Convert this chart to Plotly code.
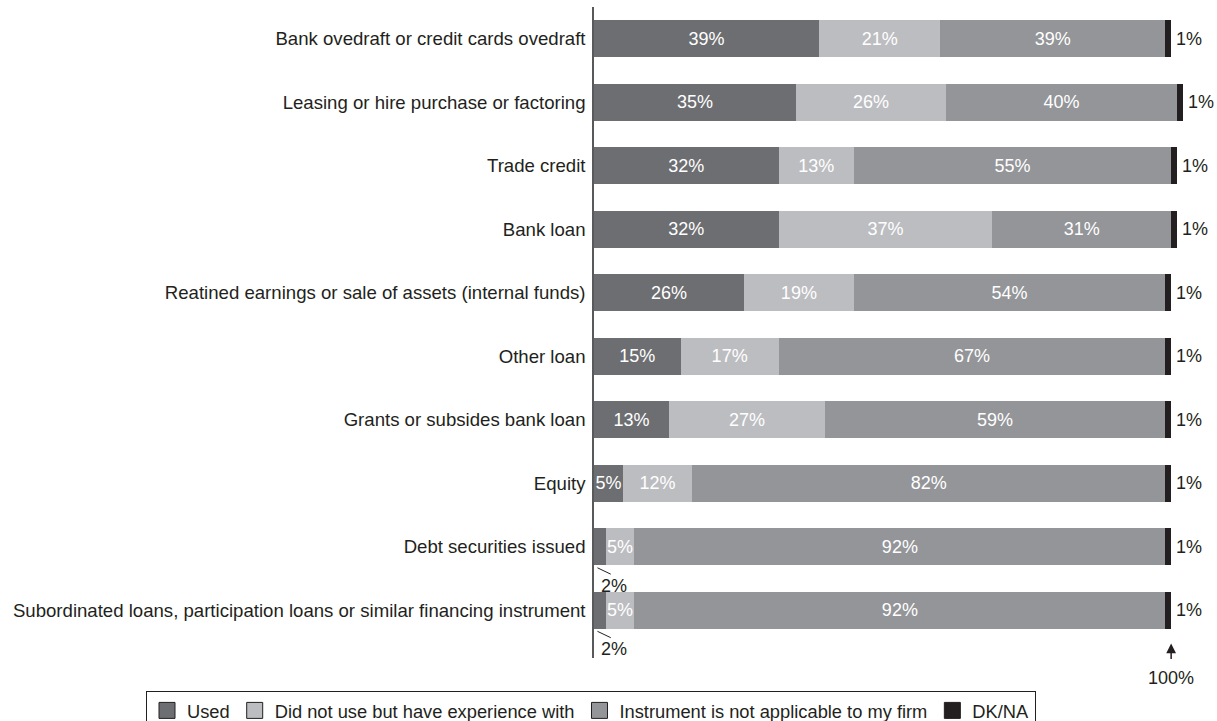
import plotly.graph_objects as go

categories = [
    "Bank ovedraft or credit cards ovedraft",
    "Leasing or hire purchase or factoring",
    "Trade credit",
    "Bank loan",
    "Reatined earnings or sale of assets (internal funds)",
    "Other loan",
    "Grants or subsides bank loan",
    "Equity",
    "Debt securities issued",
    "Subordinated loans, participation loans or similar financing instrument",
]
used = [39, 35, 32, 32, 26, 15, 13, 5, 2, 2]
did_not_use = [21, 26, 13, 37, 19, 17, 27, 12, 5, 5]
not_applicable = [39, 40, 55, 31, 54, 67, 59, 82, 92, 92]
dk_na = [1, 1, 1, 1, 1, 1, 1, 1, 1, 1]

series = [
    ("Used", used, "#6d6e71"),
    ("Did not use but have experience with", did_not_use, "#bcbdc0"),
    ("Instrument is not applicable to my firm", not_applicable, "#939598"),
    ("DK/NA", dk_na, "#231f20"),
]

FONT = "Liberation Sans, Arial, Helvetica, sans-serif"
TXT = "#231f20"
rows = list(range(len(categories)))
BAR_W = 0.58

W, H = 1217, 721
ML, MR, MT, MB = 594, 17, 7, 63
PLOT_W = W - ML - MR
PLOT_H = H - MT - MB

fig = go.Figure()
for name, vals, col in series:
    if name == "DK/NA":
        texts = ["" for _ in vals]
    else:
        texts = [f"{v}%" if v >= 5 else "" for v in vals]
    fig.add_trace(go.Bar(
        y=rows, x=vals, orientation="h", name=name,
        marker=dict(color=col, line=dict(width=0)),
        width=BAR_W,
        text=texts, textposition="inside", insidetextanchor="middle",
        textangle=0,
        textfont=dict(color="white", size=18, family=FONT),
        hoverinfo="skip", showlegend=False,
    ))
    # legend-only proxy with outlined square symbol
    fig.add_trace(go.Scatter(
        x=[None], y=[None], mode="markers", name=name,
        marker=dict(symbol="square", size=16, color=col,
                    line=dict(color="#231f20", width=1)),
        showlegend=True, hoverinfo="skip",
    ))

annotations = []
shapes = []
totals = [u + d + n + k for u, d, n, k in zip(used, did_not_use, not_applicable, dk_na)]
for i, (tot, k) in enumerate(zip(totals, dk_na)):
    annotations.append(dict(
        x=tot, y=i, xref="x", yref="y", text=f"{k}%", showarrow=False,
        xanchor="left", xshift=3, font=dict(size=18, color=TXT, family=FONT),
    ))
for i, u in enumerate(used):
    if u < 5:
        annotations.append(dict(
            x=0, y=i, xref="x", yref="y", text=f"{u}%", showarrow=False,
            xanchor="left", xshift=5, yshift=-39,
            font=dict(size=18, color=TXT, family=FONT),
        ))
        shapes.append(dict(
            type="line", xref="x", yref="y",
            x0=u * 0.3, y0=i + 0.33, x1=u * 1.45, y1=i + 0.43,
            line=dict(color=TXT, width=1),
        ))

annotations.append(dict(
    x=100, y=len(categories) - 1 + 0.52, xref="x", yref="y", text="100%",
    showarrow=True, ax=0, ay=35, arrowhead=2, arrowsize=1.3, arrowwidth=1.5,
    arrowcolor=TXT, startstandoff=8,
    font=dict(size=18, color=TXT, family=FONT),
))

fig.update_layout(
    barmode="stack",
    width=W, height=H,
    margin=dict(l=ML, r=MR, t=MT, b=MB, autoexpand=False),
    paper_bgcolor="white", plot_bgcolor="white",
    font=dict(family=FONT, size=18, color=TXT),
    uniformtext=dict(minsize=18, mode="show"),
    xaxis=dict(range=[0, 105], showgrid=False, zeroline=False,
               showticklabels=False, showline=False, fixedrange=True),
    yaxis=dict(range=[len(categories) - 0.25, -0.5], tickmode="array",
               tickvals=rows, ticktext=categories, showgrid=False,
               zeroline=False, showline=True, linecolor="#58595b",
               linewidth=1.5, ticks="", ticklabelstandoff=3,
               tickfont=dict(size=18.6, color=TXT, family=FONT)),
    legend=dict(orientation="h",
                x=(146 - ML) / PLOT_W, xanchor="left",
                y=-(691 - (H - MB)) / PLOT_H, yanchor="top",
                bordercolor="#231f20", borderwidth=1, bgcolor="rgba(0,0,0,0)",
                font=dict(size=18.3, color=TXT, family=FONT),
                traceorder="normal", itemsizing="trace"),
    annotations=annotations,
    shapes=shapes,
    showlegend=True,
)

fig.write_html(
    "out.html",
    config={"displayModeBar": False},
    post_script="document.body.style.margin='0';document.body.style.overflow='hidden';",
)
